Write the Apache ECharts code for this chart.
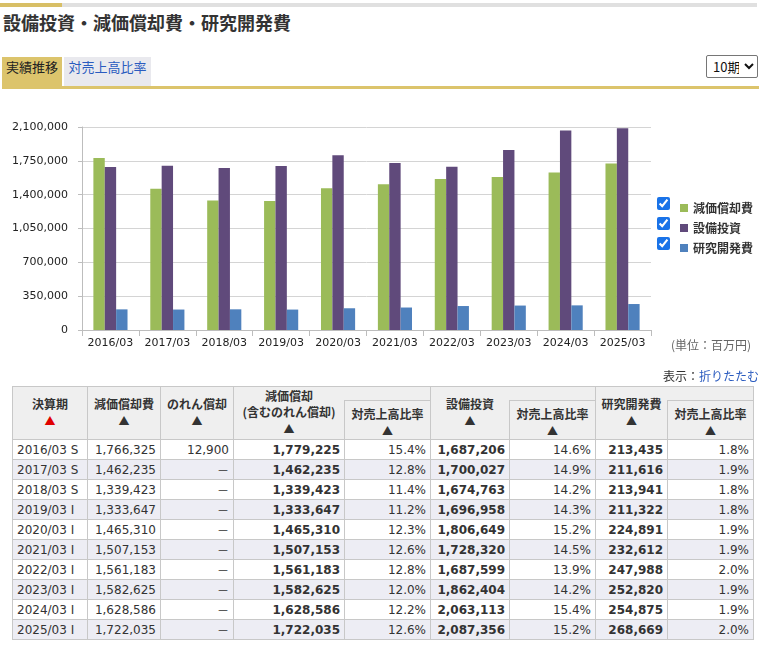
<!DOCTYPE html>
<html>
<head>
<meta charset="utf-8">
<script src="https://cdn.jsdelivr.net/npm/echarts@6/dist/echarts.min.js"></script>
<style>
  body { margin: 0; background: #fff; font-family: "DejaVu Sans", "Noto Sans CJK JP", sans-serif; color: #333; }
  #page { position: relative; width: 784px; height: 667px; overflow: hidden; }
  .topbar { position: absolute; left: 0; top: 3px; width: 757px; height: 4px; background: #e0e0e0; }
  .topbar i { position: absolute; left: 0; top: 0; width: 62px; height: 4px; background: #d8bf66; }
  h1 { position: absolute; left: 3px; top: 9px; margin: 0; font: bold 18px "Noto Sans CJK JP", sans-serif; color: #333; }
  .tab { position: absolute; top: 57px; height: 29px; line-height: 29px; font: 13px "Noto Sans CJK JP", sans-serif; text-align: center; }
  .tab1 { left: 2px; width: 60px; background: #dcc46c; color: #222; }
  .tab2 { left: 64px; width: 87px; background: #e9e9ee; color: #2a5bbf; }
  .goldline { position: absolute; left: 2px; top: 86px; width: 757px; height: 3px; background: #dcc46c; }
  select { position: absolute; left: 706px; top: 55px; width: 52px; height: 23px; font: 13px "Noto Sans CJK JP", sans-serif; border: 1px solid #767676; border-radius: 2px; background: #fff; color: #111; padding: 0 2px; }
  #chart { position: absolute; left: 0; top: 110px; width: 784px; height: 250px; }
  .cb { position: absolute; left: 657px; width: 13px; height: 13px; margin: 0; accent-color: #1a73e8; }
  .unit { position: absolute; left: 671px; top: 336px; font: 12px "Noto Sans CJK JP", sans-serif; color: #666; }
  .disp { position: absolute; right: 25px; top: 367px; font: 12px "Noto Sans CJK JP", sans-serif; color: #333; }
  .disp a { color: #2a5bbf; text-decoration: none; }
  table { position: absolute; left: 12px; top: 386px; border-collapse: collapse; table-layout: fixed; font-size: 12px; }
  th, td { border: 1px solid #c8c8c8; padding: 0 4px; }
  th { background: #efefef; font: bold 12px "Noto Sans CJK JP", sans-serif; color: #333; vertical-align: top; text-align: center; line-height: 16px; }
  th.c { padding-top: 9px; }
  th.g { padding-top: 1px; }
  th.s { padding-top: 5px; }
  th.e { border-left: hidden; border-bottom: 1px solid #c8c8c8; height: 13px; padding: 0; }
  td { height: 19px; text-align: right; white-space: nowrap; }
  td.k { text-align: left; }
  td.b { font-weight: bold; }
  tr.alt td { background: #ededf4; }
  .red { color: #e00000; font-size: 11px; }
  .tri { font-size: 11px; }
</style>
</head>
<body>
<div id="page">
  <div class="topbar"><i></i></div>
  <h1>設備投資・減価償却費・研究開発費</h1>
  <div class="tab tab1">実績推移</div>
  <div class="tab tab2">対売上高比率</div>
  <select><option>10期</option></select>
  <div class="goldline"></div>
  <div id="chart"></div>
  <input type="checkbox" class="cb" style="top:197px" checked>
  <input type="checkbox" class="cb" style="top:217px" checked>
  <input type="checkbox" class="cb" style="top:237px" checked>
  <div class="unit">(単位：百万円)</div>
  <div class="disp">表示：<a>折りたたむ</a></div>
  <table id="tbl"></table>
</div>
<script>
// 決算期
const periods = ['2016/03', '2017/03', '2018/03', '2019/03', '2020/03', '2021/03', '2022/03', '2023/03', '2024/03', '2025/03'];
const periodType = ['S', 'S', 'S', 'I', 'I', 'I', 'I', 'I', 'I', 'I'];
// 減価償却費
const depreciation = [1766325, 1462235, 1339423, 1333647, 1465310, 1507153, 1561183, 1582625, 1628586, 1722035];
// のれん償却
const goodwill = [12900, null, null, null, null, null, null, null, null, null];
// 減価償却(含むのれん償却)
const depTotal = [1779225, 1462235, 1339423, 1333647, 1465310, 1507153, 1561183, 1582625, 1628586, 1722035];
const depRatio = [15.4, 12.8, 11.4, 11.2, 12.3, 12.6, 12.8, 12.0, 12.2, 12.6];
// 設備投資
const capex = [1687206, 1700027, 1674763, 1696958, 1806649, 1728320, 1687599, 1862404, 2063113, 2087356];
const capexRatio = [14.6, 14.9, 14.2, 14.3, 15.2, 14.5, 13.9, 14.2, 15.4, 15.2];
// 研究開発費
const rnd = [213435, 211616, 213941, 211322, 224891, 232612, 247988, 252820, 254875, 268669];
const rndRatio = [1.8, 1.9, 1.8, 1.8, 1.9, 1.9, 2.0, 1.9, 1.9, 2.0];

const seriesNames = ['減価償却費', '設備投資', '研究開発費'];
const colors = ['#9bbb59', '#604a7b', '#4f81bd'];

const chart = echarts.init(document.getElementById('chart'));
chart.setOption({
    animation: false,
    grid: {left: 82, top: 17, width: 569, height: 203},
    legend: {
        orient: 'vertical',
        left: 675,
        top: 87,
        icon: 'rect',
        itemWidth: 8,
        itemHeight: 8,
        itemGap: 8,
        textStyle: {fontSize: 12, color: '#333', fontFamily: 'Noto Sans CJK JP', fontWeight: 'bold'},
        data: seriesNames
    },
    xAxis: {
        type: 'category',
        data: periods,
        axisLine: {lineStyle: {color: '#bdbdbd'}},
        axisTick: {show: true, interval: 0, length: 6, lineStyle: {color: '#bdbdbd'}},
        axisLabel: {interval: 0, color: '#222', fontSize: 11, fontFamily: 'DejaVu Sans', margin: 8}
    },
    yAxis: {
        type: 'value',
        min: 0,
        max: 2100000,
        interval: 350000,
        axisLine: {show: true, lineStyle: {color: '#bdbdbd'}},
        axisTick: {show: true, length: 4, lineStyle: {color: '#bdbdbd'}},
        splitLine: {lineStyle: {color: '#d4d4d4'}},
        axisLabel: {
            color: '#222', fontSize: 11, fontFamily: 'DejaVu Sans', margin: 14,
            formatter: v => v.toLocaleString('en-US')
        }
    },
    series: [
        {name: seriesNames[0], type: 'bar', data: depTotal, itemStyle: {color: colors[0]}, barGap: '0%', barCategoryGap: '40%'},
        {name: seriesNames[1], type: 'bar', data: capex, itemStyle: {color: colors[1]}, barGap: '0%', barCategoryGap: '40%'},
        {name: seriesNames[2], type: 'bar', data: rnd, itemStyle: {color: colors[2]}, barGap: '0%', barCategoryGap: '40%'}
    ]
});

// 表
const fmt = v => v == null ? '－' : v.toLocaleString('en-US');
const pct = v => v.toFixed(1) + '%';
let html = '<colgroup>' + [75, 73, 73, 111, 86, 79, 86, 72, 86].map(w => '<col style="width:' + w + 'px">').join('') + '</colgroup>';
html += '<tr>' +
    '<th class="c" rowspan="2">決算期<br><span class="red">▲</span></th>' +
    '<th class="c" rowspan="2">減価償却費<br><span class="tri">▲</span></th>' +
    '<th class="c" rowspan="2">のれん償却<br><span class="tri">▲</span></th>' +
    '<th class="g" rowspan="2">減価償却<br>(含むのれん償却)<br><span class="tri">▲</span></th>' +
    '<th class="e"></th>' +
    '<th class="c" rowspan="2">設備投資<br><span class="tri">▲</span></th>' +
    '<th class="e"></th>' +
    '<th class="c" rowspan="2">研究開発費<br><span class="tri">▲</span></th>' +
    '<th class="e"></th></tr>';
html += '<tr>' + [0, 1, 2].map(() => '<th class="s" style="height:33px">対売上高比率<br><span class="tri">▲</span></th>').join('') + '</tr>';
periods.forEach((p, i) => {
    html += '<tr' + (i % 2 ? ' class="alt"' : '') + '>' +
        '<td class="k">' + p + ' ' + periodType[i] + '</td>' +
        '<td>' + fmt(depreciation[i]) + '</td>' +
        '<td>' + fmt(goodwill[i]) + '</td>' +
        '<td class="b">' + fmt(depTotal[i]) + '</td>' +
        '<td>' + pct(depRatio[i]) + '</td>' +
        '<td class="b">' + fmt(capex[i]) + '</td>' +
        '<td>' + pct(capexRatio[i]) + '</td>' +
        '<td class="b">' + fmt(rnd[i]) + '</td>' +
        '<td>' + pct(rndRatio[i]) + '</td></tr>';
});
document.getElementById('tbl').innerHTML = html;
</script>
</body>
</html>
